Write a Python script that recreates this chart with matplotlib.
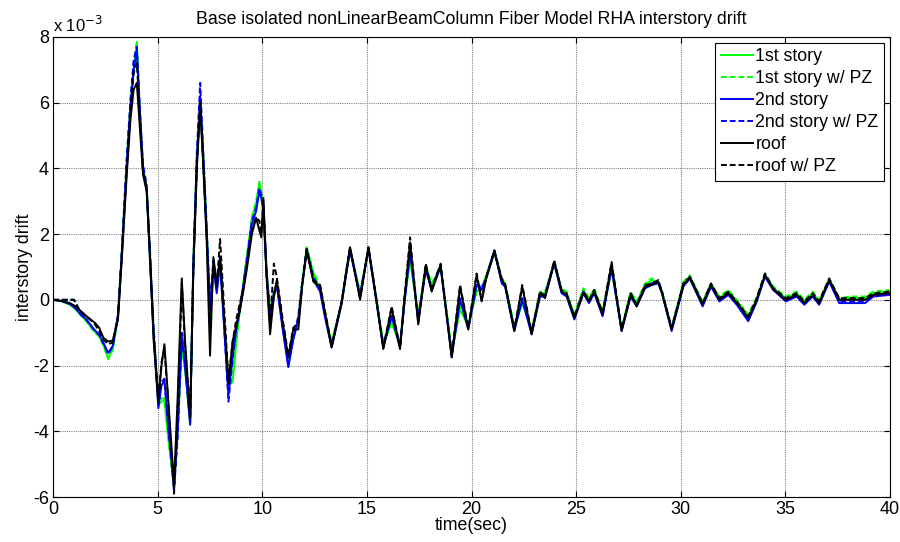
import matplotlib
matplotlib.use("Agg")
import matplotlib.pyplot as plt
from matplotlib.ticker import FuncFormatter

plt.rcParams['font.family'] = ['Liberation Sans', 'DejaVu Sans']

# time (sec)
t = [0, 0.4, 0.8, 1.0, 1.3, 1.6, 1.8, 2.0, 2.2, 2.4,
     2.63, 2.85, 3.1, 3.28, 3.52, 3.7, 3.85, 4.0, 4.15, 4.3,
     4.47, 4.63, 4.8, 5.03, 5.18, 5.32, 5.5, 5.78, 5.95, 6.15,
     6.3, 6.55, 6.7, 6.87, 7.03, 7.18, 7.34, 7.5, 7.66, 7.82,
     7.98, 8.15, 8.38, 8.58, 8.75, 8.93, 9.1, 9.25, 9.5, 9.7,
     9.86, 9.95, 10.05, 10.2, 10.37, 10.55, 10.69, 10.95, 11.24, 11.48,
     11.72, 11.9, 12.12, 12.44, 12.76, 13.0, 13.31, 13.79, 14.0, 14.19,
     14.67, 15.07, 15.4, 15.78, 16.18, 16.58, 16.8, 17.06, 17.45, 17.81,
     18.09, 18.52, 19.05, 19.45, 19.84, 20.24, 20.48, 20.7, 21.09, 21.44,
     21.6, 22.04, 22.42, 22.87, 23.27, 23.51, 23.95, 24.3, 24.54, 24.91,
     25.34, 25.61, 25.86, 26.26, 26.69, 27.17, 27.6, 27.89, 28.29, 28.6,
     28.92, 29.1, 29.56, 30.12, 30.43, 31.04, 31.44, 31.84, 32.27, 32.67,
     33.22, 33.6, 34.02, 34.42, 35.02, 35.53, 35.9, 36.3, 36.61, 37.09,
     37.57, 38.08, 38.8, 39.2, 40]

# drift values in units of 1e-3
story1 = [0, -0.05, -0.15, -0.25, -0.45, -0.65, -0.82, -0.98, -1.1, -1.35,
          -1.78, -1.5, -0.55, 1.4, 4.15, 6.0, 7.0, 7.85, 5.5, 3.9,
          3.4, 1.2, -1.0, -3.2, -3.1, -3.05, -4.2, -5.7, -4.0, -1.2,
          -2.0, -3.8, 1.0, 4.3, 6.0, 4.2, 2.0, -0.5, 1.1, 0.3,
          1.2, -0.5, -2.6, -2.5, -1.3, -0.3, 0.5, 1.2, 2.5, 2.9,
          3.6, 3.2, 2.6, 0.8, -0.35, 0.2, 0.5, -0.7, -1.9, -1.2,
          -0.6, 0.5, 1.6, 0.8, 0.3, -0.5, -1.3, -0.1, 0.8, 1.5,
          0.2, 1.55, 0.2, -1.35, -0.7, -1.4, 0.0, 1.2, -0.5, 1.0,
          0.45, 1.0, -1.6, -0.3, -0.8, 0.25, 0.35, 0.7, 1.45, 0.6,
          0.45, -0.85, -0.1, -0.95, 0.2, 0.2, 1.1, 0.3, 0.2, -0.5,
          0.3, 0.0, 0.3, -0.4, 0.9, -0.9, 0.2, -0.1, 0.45, 0.6,
          0.5, 0.2, -0.9, 0.5, 0.7, -0.1, 0.45, 0.05, 0.25, -0.05,
          -0.5, 0.0, 0.75, 0.35, 0.05, 0.2, -0.05, 0.2, -0.05, 0.6,
          0.0, 0.05, 0.05, 0.2, 0.25]

story1_pz = [0, 0, 0, 0, -0.45, -0.66, -0.84, -1.0, -1.12, -1.4,
             -1.8, -1.52, -0.5, 1.5, 4.3, 6.1, 7.2, 7.8, 5.7, 4.0,
             3.5, 1.3, -0.9, -3.1, -3.0, -3.0, -4.1, -5.7, -4.1, -1.5,
             -2.1, -3.7, 1.1, 4.4, 6.1, 4.4, 2.2, -0.3, 1.2, 0.4,
             1.3, -0.4, -2.6, -2.4, -1.2, -0.3, 0.6, 1.3, 2.5, 3.0,
             3.5, 3.3, 2.8, 0.9, -0.3, 0.25, 0.55, -0.65, -1.85, -1.15,
             -0.5, 0.55, 1.6, 0.85, 0.4, -0.4, -1.3, -0.05, 0.85, 1.55,
             0.25, 1.55, 0.25, -1.3, -0.6, -1.35, 0.05, 1.3, -0.45, 1.05,
             0.5, 1.05, -1.55, -0.2, -0.75, 0.3, 0.4, 0.75, 1.5, 0.65,
             0.5, -0.8, -0.05, -0.9, 0.25, 0.25, 1.15, 0.35, 0.25, -0.45,
             0.35, 0.05, 0.35, -0.35, 0.95, -0.85, 0.25, -0.05, 0.5, 0.65,
             0.55, 0.25, -0.85, 0.55, 0.75, -0.05, 0.5, 0.1, 0.3, 0.0,
             -0.45, 0.05, 0.8, 0.4, 0.1, 0.25, 0.0, 0.25, 0.0, 0.65,
             0.05, 0.1, 0.1, 0.25, 0.3]

story2 = [0, -0.04, -0.13, -0.22, -0.42, -0.6, -0.77, -0.93, -1.05, -1.3,
          -1.62, -1.4, -0.5, 1.35, 4.1, 5.9, 7.0, 7.6, 5.6, 3.9,
          3.4, 1.2, -1.0, -3.3, -2.6, -2.45, -3.8, -5.6, -4.0, -1.1,
          -2.0, -3.8, 1.0, 4.2, 6.2, 4.2, 2.0, -0.3, 1.0, 0.2,
          1.1, -0.6, -2.9, -1.7, -0.9, -0.3, 0.4, 1.1, 2.3, 2.7,
          3.3, 3.1, 2.7, 0.8, -0.5, 0.1, 0.45, -0.8, -2.05, -1.2,
          -0.6, 0.45, 1.5, 0.6, 0.25, -0.55, -1.45, -0.1, 0.75, 1.5,
          0.1, 1.55, 0.15, -1.45, -0.5, -1.45, -0.05, 1.45, -0.6, 0.9,
          0.3, 1.0, -1.75, 0.0, -0.9, 0.45, 0.3, 0.65, 1.5, 0.5,
          0.4, -0.95, 0.0, -1.05, 0.1, 0.1, 1.1, 0.2, 0.1, -0.6,
          0.2, -0.1, 0.2, -0.5, 0.95, -0.95, 0.1, -0.2, 0.35, 0.45,
          0.5, 0.2, -0.95, 0.4, 0.65, -0.2, 0.4, -0.05, 0.15, -0.15,
          -0.65, -0.1, 0.7, 0.3, -0.05, 0.1, -0.15, 0.1, -0.15, 0.55,
          -0.1, -0.1, -0.1, 0.1, 0.15]

story2_pz = [0, 0, 0, 0, -0.44, -0.62, -0.79, -0.95, -1.07, -1.33,
             -1.65, -1.42, -0.45, 1.45, 4.3, 6.1, 7.3, 7.7, 5.8, 4.1,
             3.5, 1.3, -0.8, -3.2, -2.5, -2.4, -3.9, -5.8, -4.2, -1.0,
             -1.9, -3.7, 1.1, 4.5, 6.6, 4.5, 2.2, -0.1, 1.2, 0.3,
             1.3, -0.5, -3.1, -1.8, -0.9, -0.2, 0.5, 1.2, 2.4, 2.8,
             3.4, 3.2, 2.9, 0.9, -0.4, 0.2, 0.5, -0.75, -2.0, -1.15,
             -0.5, 0.5, 1.55, 0.7, 0.3, -0.5, -1.4, -0.05, 0.8, 1.55,
             0.15, 1.55, 0.2, -1.4, -0.45, -1.4, 0.0, 1.5, -0.55, 0.95,
             0.35, 1.05, -1.7, 0.05, -0.85, 0.5, 0.35, 0.7, 1.5, 0.55,
             0.45, -0.9, 0.05, -1.0, 0.15, 0.15, 1.15, 0.25, 0.15, -0.55,
             0.25, -0.05, 0.25, -0.45, 1.0, -0.9, 0.15, -0.15, 0.4, 0.5,
             0.55, 0.25, -0.9, 0.45, 0.7, -0.15, 0.45, 0.0, 0.2, -0.1,
             -0.6, -0.05, 0.75, 0.35, 0.0, 0.15, -0.1, 0.15, -0.1, 0.6,
             -0.05, -0.05, -0.05, 0.15, 0.2]

roof = [0, -0.03, -0.1, -0.17, -0.33, -0.5, -0.6, -0.7, -0.85, -1.15,
        -1.27, -1.24, -0.6, 1.2, 3.8, 5.5, 6.4, 6.6, 5.2, 3.8,
        3.3, 1.4, -1.2, -3.1, -2.0, -1.35, -3.0, -5.6, -3.0, 0.65,
        -1.2, -3.6, 0.8, 4.0, 5.9, 4.0, 1.8, -1.7, 1.3, 0.5,
        1.3, -0.3, -2.55, -1.25, -0.8, -0.3, 0.3, 0.9, 2.0, 2.5,
        2.1, 1.9, 3.1, 0.7, -1.05, 0.1, 0.6, -0.6, -1.75, -0.9,
        -0.9, 0.4, 1.5, 0.55, 0.4, -0.4, -1.45, -0.1, 0.8, 1.6,
        0.0, 1.6, 0.2, -1.5, -0.25, -1.5, 0.1, 1.75, -0.75, 1.05,
        0.25, 1.05, -1.75, 0.4, -0.9, 0.75, -0.05, 0.65, 1.45, 0.6,
        0.45, -0.95, 0.4, -1.05, 0.2, 0.05, 1.15, 0.25, 0.15, -0.55,
        0.2, -0.05, 0.25, -0.45, 1.1, -0.95, 0.15, -0.2, 0.4, 0.45,
        0.55, 0.2, -0.9, 0.45, 0.65, -0.15, 0.45, 0.0, 0.2, -0.1,
        -0.55, -0.05, 0.75, 0.3, 0.0, 0.15, -0.1, 0.15, -0.1, 0.6,
        0.0, 0.0, 0.0, 0.15, 0.2]

roof_pz = [0, 0, 0, 0, -0.35, -0.52, -0.62, -0.75, -0.95, -1.2,
           -1.35, -1.3, -0.5, 1.3, 4.0, 5.8, 6.9, 7.2, 5.6, 3.9,
           3.4, 1.5, -1.0, -3.0, -1.9, -1.5, -3.1, -5.9, -3.5, 0.5,
           -1.3, -3.5, 0.9, 4.1, 6.0, 4.2, 2.0, -0.8, 1.0, 0.4,
           1.85, 0.0, -2.4, -1.3, -0.6, -0.1, 0.4, 1.0, 2.1, 2.5,
           2.4, 2.0, 3.0, 0.8, -0.7, 1.1, 0.7, -0.5, -1.7, -0.85,
           -0.7, 0.45, 1.55, 0.6, 0.45, -0.35, -1.4, -0.05, 0.85, 1.6,
           0.05, 1.6, 0.25, -1.45, -0.2, -1.45, 0.15, 1.9, -0.7, 1.1,
           0.3, 1.1, -1.7, 0.45, -0.85, 0.8, 0.0, 0.7, 1.5, 0.65,
           0.5, -0.9, 0.45, -1.0, 0.25, 0.1, 1.2, 0.3, 0.2, -0.5,
           0.25, 0.0, 0.3, -0.4, 1.15, -0.9, 0.2, -0.15, 0.45, 0.5,
           0.6, 0.25, -0.85, 0.5, 0.7, -0.1, 0.5, 0.05, 0.25, -0.05,
           -0.5, 0.0, 0.8, 0.35, 0.05, 0.2, -0.05, 0.2, -0.05, 0.65,
           0.05, 0.05, 0.05, 0.2, 0.25]

series = [
    ("1st story", story1, (0, 1, 0), "-"),
    ("1st story w/ PZ", story1_pz, (0, 1, 0), "--"),
    ("2nd story", story2, (0, 0, 1), "-"),
    ("2nd story w/ PZ", story2_pz, (0, 0, 1), "--"),
    ("roof", roof, "k", "-"),
    ("roof w/ PZ", roof_pz, "k", "--"),
]

fig = plt.figure(figsize=(9, 5.42), dpi=100)
ax = fig.add_axes([0.059, 0.083, 0.93, 0.849])

for label, vals, color, ls in series:
    line, = ax.plot(t, [v * 1e-3 for v in vals], color=color, linestyle=ls,
                    linewidth=1.4, label=label)
    if ls == "--":
        line.set_dashes((3, 1.5))

ax.set_xlim(0, 40)
ax.set_ylim(-6e-3, 8e-3)
ax.set_xticks(range(0, 41, 5))
ax.set_yticks([v * 1e-3 for v in range(-6, 9, 2)])
ax.yaxis.set_major_formatter(FuncFormatter(lambda v, p: "%g" % round(v * 1e3, 6)))
ax.tick_params(direction="in", top=True, right=True, labelsize=13, length=4, pad=3)
ax.grid(True, color="0.5", linestyle=(0, (1, 1)), linewidth=0.8)
for s in ax.spines.values():
    s.set_linewidth(0.8)

ax.text(0.0, 1.003, "x 10$^{-3}$", transform=ax.transAxes, fontsize=12,
        ha="left", va="bottom")
ax.set_title("Base isolated nonLinearBeamColumn Fiber Model RHA interstory drift",
             fontsize=12.8, pad=9)
ax.set_xlabel("time(sec)", fontsize=12.8, labelpad=-1)
ax.set_ylabel("interstory drift", fontsize=12.8, labelpad=0)

leg = ax.legend(loc="upper right", fontsize=12.8, fancybox=False, framealpha=1,
                edgecolor="k", handlelength=1.8, handletextpad=0.15,
                borderaxespad=0.35, labelspacing=0.28, borderpad=0.3)
leg.get_frame().set_linewidth(0.8)

fig.savefig("out.png", dpi=100)
